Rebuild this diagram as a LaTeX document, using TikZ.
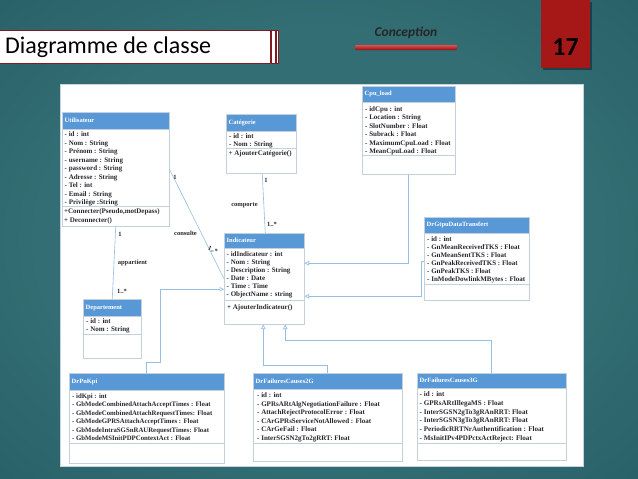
\documentclass[tikz,border=0pt]{standalone}
\usepackage{fontspec}
\setmainfont{Liberation Serif}
\newfontfamily\carlito{Carlito}
\usetikzlibrary{arrows.meta,calc}

\definecolor{bgmid}{RGB}{50,110,115}
\definecolor{bgedge}{RGB}{33,84,94}
\definecolor{bgdark}{RGB}{22,57,70}
\definecolor{panelline}{RGB}{196,212,224}
\definecolor{hdrblue}{RGB}{88,152,214}
\definecolor{boxline}{RGB}{196,208,222}
\definecolor{linkblue}{RGB}{150,190,226}
\definecolor{txtcol}{RGB}{40,40,46}
\definecolor{titlered}{RGB}{128,28,30}
\definecolor{numred}{RGB}{166,24,24}
\definecolor{numshadow}{RGB}{18,40,50}
\definecolor{barlight}{RGB}{226,80,80}
\definecolor{bardark}{RGB}{140,18,18}

\pgfdeclareradialshading{slidebg}{\pgfpoint{0bp}{0bp}}{%
  color(0bp)=(bgmid); color(22bp)=(bgmid); color(50bp)=(bgedge); color(72bp)=(bgdark)}

% one UML class: name, x, y, width, height, header height, title
\newcommand\umlframe[7]{%
  \node[clsbox, minimum width=#4pt, minimum height=#5pt] (#1) at (#2,#3) {};
  \node[clshead, minimum width=#4pt, minimum height=#6pt] (#1-head) at (#2,#3) {};
  \node[clstitle] (#1-title) at ([xshift=2.5pt]#1-head.west) {#7};
}
% separator between attributes and operations
\newcommand\umlsep[2]{\draw[clssep] (#1.west |- 0,#2) -- (#1.east |- 0,#2);}

\begin{document}
\begin{tikzpicture}[x=1pt,y=-1pt,
  panel/.style={draw=panelline, fill=white, line width=0.6pt, anchor=north west, inner sep=0pt},
  clsbox/.style={draw=boxline, fill=white, line width=0.5pt, anchor=north west, inner sep=0pt},
  clshead/.style={draw=boxline, fill=hdrblue, line width=0.5pt, anchor=north west, inner sep=0pt},
  clstitle/.style={anchor=west, inner sep=0pt, text=white, font=\bfseries\fontsize{6.5}{7}\selectfont},
  clstext/.style={anchor=north west, align=left, inner sep=0pt, text=txtcol, font=\bfseries\fontsize{7}{8.5}\selectfont},
  clssep/.style={draw=boxline, line width=0.5pt},
  assoc/.style={draw=linkblue, line width=0.6pt},
  inherit/.style={assoc, -{Triangle[open, length=4.5pt, width=4.5pt]}},
  role/.style={inner sep=0pt, text=txtcol, font=\bfseries\fontsize{6.5}{7}\selectfont}]

\useasboundingbox (0,0) rectangle (638,479);
\shade[shading=slidebg] (0,0) rectangle (638,479);

% ---- slide header ----
\node[draw=titlered, line width=1.3pt, fill=white, minimum width=279pt, minimum height=33pt,
      anchor=north west, inner sep=0pt] (titlebox) at (-1,30) {};
\draw[titlered, line width=2pt] ([xshift=-8.5pt]titlebox.north east) -- ([xshift=-8.5pt]titlebox.south east);
\draw[titlered, line width=2pt] ([xshift=-3.5pt]titlebox.north east) -- ([xshift=-3.5pt]titlebox.south east);
\node[anchor=west, inner sep=0pt, font=\carlito\fontsize{24}{24}\selectfont] (titletext) at (5,47) {Diagramme de classe};

\node[font=\carlito\bfseries\itshape\fontsize{13.5}{14}\selectfont, text=black!85, inner sep=0pt] (concept) at (406,33) {Conception};
\node[top color=barlight, bottom color=bardark, minimum width=102pt, minimum height=5pt,
      inner sep=0pt, rounded corners=1pt] (conbar) at (406,47.5) {};

\node[fill=numshadow, opacity=0.6, minimum width=49pt, minimum height=68pt, anchor=north west,
      inner sep=0pt] (numshade) at (543,2) {};
\node[fill=numred, minimum width=49pt, minimum height=68pt, anchor=north west, inner sep=0pt] (numbox) at (541,0) {};
\node[font=\carlito\bfseries\fontsize{26}{26}\selectfont, inner sep=0pt] (pagenum) at (565.5,47) {17};

% ---- white sheet ----
\node[panel, minimum width=523pt, minimum height=382pt] (sheet) at (60,84) {};

% ---- classes ----
\umlframe{util}{62}{112}{107}{114}{17}{Utilisateur}
\node[clstext] (util-attr) at (64.5,131.5) {- id : int\\- Nom : String\\- Prénom : String\\- username : String\\- password : String\\- Adresse : String\\- Tel : int\\- Email : String\\- Privilège :String};
\umlsep{util}{206}
\node[clstext] (util-ops) at (64,208.5) {+Connecter(Pseudo,motDepass)\\+ Deconnecter()};

\umlframe{cat}{226}{114}{70}{59}{17}{Catégorie}
\node[clstext, font=\bfseries\fontsize{7}{8}\selectfont] (cat-attr) at (229,133.5) {- id : int\\- Nom : String};
\umlsep{cat}{148}
\node[clstext] (cat-ops) at (228.5,150.5) {+ AjouterCatégorie()};

\umlframe{cpu}{362}{86}{93}{88}{16}{Cpu\_load}
\node[clstext] (cpu-attr) at (365,106) {- idCpu : int\\- Location : String\\- SlotNumber : Float\\- Subrack : Float\\- MaximumCpuLoad : Float\\- MeanCpuLoad : Float};
\umlsep{cpu}{155}

\umlframe{gtpu}{424}{217}{105}{83}{16}{DrGtpuDataTransfert}
\node[clstext, font=\bfseries\fontsize{7}{8}\selectfont] (gtpu-attr) at (427,236.5) {- id : int\\- GnMeanReceivedTKS : Float\\- GnMeanSentTKS : Float\\- GnPeakReceivedTKS : Float\\- GnPeakTKS : Float\\- InModeDowlinkMBytes : Float};
\umlsep{gtpu}{284}

\umlframe{ind}{224}{233}{80}{91}{15}{Indicateur}
\node[clstext, font=\bfseries\fontsize{7}{8}\selectfont] (ind-attr) at (226.5,251.5) {- idIndicateur : int\\- Nom : String\\- Description : String\\- Date : Date\\- Time : Time\\- ObjectName : string};
\umlsep{ind}{300}
\node[clstext] (ind-ops) at (227,304.5) {+ AjouterIndicateur()};

\umlframe{dept}{83}{299}{58}{59}{17}{Departement}
\node[clstext, font=\bfseries\fontsize{7}{8}\selectfont] (dept-attr) at (86,318.5) {- id : int\\- Nom : String};
\umlsep{dept}{334}

\umlframe{pn}{69}{373}{155}{90}{17}{DrPnKpi}
\node[clstext, font=\bfseries\fontsize{6.8}{8.5}\selectfont] (pn-attr) at (72,393.5) {- idKpi : int\\- GbModeCombinedAttachAcceptTimes : Float\\- GbModeCombinedAttachRequestTimes: Float\\- GbModeGPRSAttachAcceptTimes : Float\\- GbModeIntraSGSnRAURequestTimes: Float\\- GbModeMSInitPDPContextAct : Float};
\umlsep{pn}{443}

\umlframe{ftwo}{253}{373}{149}{88}{16}{DrFailuresCauses2G}
\node[clstext] (ftwo-attr) at (257,392.5) {- id : int\\- GPRsARtAlgNegotiationFailure : Float\\- AttachRejectProtocolError : Float\\- CArGPRsServiceNotAllowed : Float\\- CArGeFail : Float\\- InterSGSN2gTo2gRRT: Float};
\umlsep{ftwo}{443}

\umlframe{fthree}{417}{373}{149}{87}{15}{DrFailuresCauses3G}
\node[clstext, font=\bfseries\fontsize{7.1}{8.7}\selectfont] (fthree-attr) at (419.5,391.5) {- id : int\\- GPRsARtIllegaMS : Float\\- InterSGSN2gTo3gRAnRRT: Float\\- InterSGSN3gTo3gRAnRRT: Float\\- PeriodicRRTNrAuthentification : Float\\- MsInitIPv4PDPctxActReject: Float};
\umlsep{fthree}{443}

% ---- associations ----
\draw[assoc] (util.east) -- (ind.west);
\draw[assoc] (util.south) -- (dept.north);
\draw[assoc] ([xshift=1pt]cat.south) -- ([xshift=1pt]ind.north);

\node[role] (consulte-a) at (175,177) {1};
\node[role] (consulte) at (185.5,233) {consulte};
\node[role, rotate=-25] (consulte-b) at (213,250) {1..*};
\node[role] (appartient-a) at (120,234) {1};
\node[role] (appartient) at (132.5,263) {appartient};
\node[role] (appartient-b) at (122,291) {1..*};
\node[role] (comporte-a) at (266,180) {1};
\node[role] (comporte) at (244.5,205) {comporte};
\node[role] (comporte-b) at (272,224) {1..*};

% ---- generalisations towards Indicateur ----
\draw[inherit] (pn.north) -- ++(0,-11) -| ([xshift=-64pt,yshift=-10.5pt]ind.west) -- ([yshift=-10.5pt]ind.west);
\draw[inherit] (ftwo.north) -- ++(0,-8) -| ([xshift=-1pt]ind.south);
\draw[inherit] (fthree.north) -- ++(0,-33) -| ([xshift=21pt]ind.south);
\draw[inherit] (cpu.south) |- ([yshift=15.5pt]ind.east);
\draw[inherit] ([yshift=-2.5pt]gtpu.west) -- ++(-3,0) |- ([yshift=-17.5pt]ind.east);

\end{tikzpicture}
\end{document}
